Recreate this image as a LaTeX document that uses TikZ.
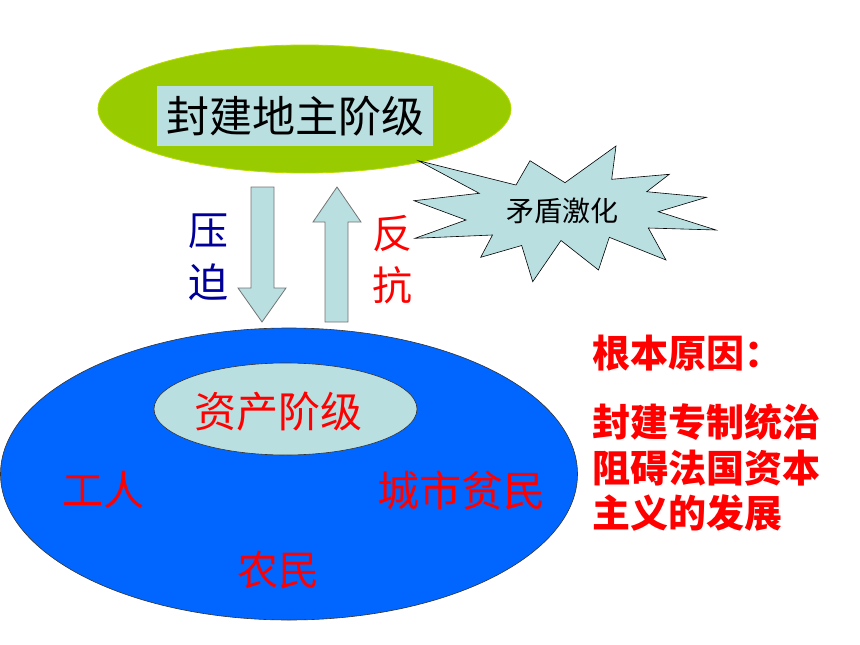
\documentclass[tikz,border=0pt]{standalone}
\usepackage{fontspec}
\newfontfamily\cjk{Noto Sans CJK SC}
\usetikzlibrary{shapes.geometric}
\definecolor{lgreen}{HTML}{99CC00}
\definecolor{paleblue}{HTML}{B9DFE1}
\definecolor{bigblue}{HTML}{0066FF}
\definecolor{dblue}{HTML}{000099}
\begin{document}
\begin{tikzpicture}[x=1pt,y=-1pt,
  blockarrow/.style={fill=paleblue,draw=black!55,line width=0.8pt},
  burst/.style={fill=paleblue,draw=black,line width=0.6pt,line join=miter},
  lbl/.style={inner sep=0pt,font=\cjk\fontsize{#1}{#1}\selectfont},
  redtxt/.style={lbl=#1,text=red},
  side/.style={inner sep=0pt,anchor=west,text=red,font=\cjk\bfseries\fontsize{38}{38}\selectfont}]
\useasboundingbox (0,0) rectangle (860,645);
% top ellipse
\node[ellipse,fill=lgreen,draw=lgreen!70!yellow,line width=0.8pt,minimum width=413pt,minimum height=128pt,inner sep=0pt] (top) at (304.5,109) {};
\node[fill=paleblue,minimum width=276pt,minimum height=60pt,inner sep=0pt,font=\cjk\fontsize{43}{43}\selectfont] (lord) at (295,116) {封建地主阶级};
% block arrows
\draw[blockarrow] (251,187) -- (274,187) -- (274,288) -- (286,288) -- (262,322) -- (238,288) -- (251,288) -- cycle;
\draw[blockarrow] (325,322) -- (348,322) -- (348,222) -- (361,222) -- (337,187) -- (313,222) -- (325,222) -- cycle;
% starburst
\draw[burst] (418.3,160.7) -- (516,185) -- (530,160.7) -- (565,182.7) -- (616,146) -- (611.7,179.3)
  -- (669.3,174.3) -- (646.7,191.7) -- (706.5,197.3) -- (658.3,211.7) -- (716,230) -- (648.3,228)
  -- (666,260) -- (609.3,237.3) -- (598.5,270) -- (561,240.5) -- (532.7,281.7) -- (521.7,245.5)
  -- (480.7,257.3) -- (492.5,235) -- (415,238.3) -- (466,220) -- (414,200.7) -- (479.3,193.3) -- cycle;
\node[lbl=28] (conf) at (562,211) {矛盾激化};
% labels by arrows
\node[lbl=40,text=dblue] (ya) at (208,231) {压};
\node[lbl=40,text=dblue] (po) at (208,282) {迫};
\node[redtxt=40] (fan) at (392,234) {反};
\node[redtxt=40] (kang) at (392,285) {抗};
% big ellipse
\node[ellipse,fill=bigblue,draw=black!80,line width=0.6pt,minimum width=577pt,minimum height=292pt,inner sep=0pt] (people) at (289,474) {};
\node[ellipse,fill=paleblue,draw=black!80,line width=0.6pt,minimum width=263pt,minimum height=92pt,inner sep=0pt] (bour) at (285.5,409) {};
\node[redtxt=42] (bourt) at (278.5,412) {资产阶级};
\node[redtxt=41] (work) at (103,490) {工人};
\node[redtxt=42] (poor) at (461,490) {城市贫民};
\node[redtxt=41] (farm) at (278,570) {农民};
% right side text
\node[side] (cause) at (592,353) {根本原因：};
\node[side] (l1) at (592,422) {封建专制统治};
\node[side] (l2) at (592,468) {阻碍法国资本};
\node[side] (l3) at (592,513) {主义的发展};
\end{tikzpicture}
\end{document}
